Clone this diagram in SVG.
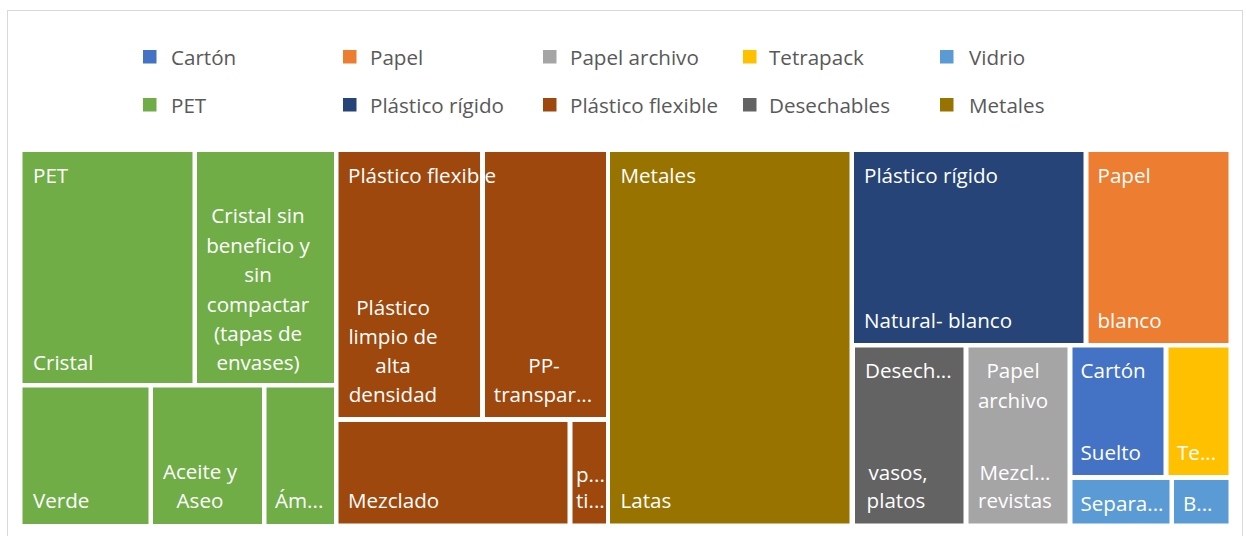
<svg xmlns="http://www.w3.org/2000/svg" width="1246" height="536" viewBox="0 0 1246 536">
<style>
text{font-family:"Open Sans","Noto Sans","Liberation Sans",sans-serif;font-size:20.6px}
.lg{fill:#595959}
.t{fill:#ffffff}
.m{text-anchor:middle}
.pet{fill:#70AD47}.pf{fill:#9E480E}.met{fill:#997300}.pr{fill:#264478}.pap{fill:#ED7D31}
.des{fill:#636363}.pa{fill:#A5A5A5}.car{fill:#4472C4}.tet{fill:#FFC000}.vid{fill:#5B9BD5}
</style>
<rect x="0" y="0" width="1246" height="536" fill="#ffffff"/>
<rect x="7.5" y="10.5" width="1235" height="540" fill="none" stroke="#d9d9d9" stroke-width="1"/>
<g id="legend">
<rect class="car" x="143" y="50" width="13.5" height="13.5"/><text class="lg" x="171" y="65">Cartón</text>
<rect class="pap" x="343" y="50" width="13.5" height="13.5"/><text class="lg" x="370" y="65">Papel</text>
<rect class="pa" x="543" y="50" width="13.5" height="13.5"/><text class="lg" x="570" y="65">Papel archivo</text>
<rect class="tet" x="743" y="50" width="13.5" height="13.5"/><text class="lg" x="769" y="65">Tetrapack</text>
<rect class="vid" x="940" y="50" width="13.5" height="13.5"/><text class="lg" x="969" y="65">Vidrio</text>
<rect class="pet" x="143" y="98" width="13.5" height="13.5"/><text class="lg" x="171" y="113">PET</text>
<rect class="pr" x="343" y="98" width="13.5" height="13.5"/><text class="lg" x="370" y="113">Plástico rígido</text>
<rect class="pf" x="543" y="98" width="13.5" height="13.5"/><text class="lg" x="570" y="113">Plástico flexible</text>
<rect class="des" x="743" y="98" width="13.5" height="13.5"/><text class="lg" x="769" y="113">Desechables</text>
<rect class="met" x="940" y="98" width="13.5" height="13.5"/><text class="lg" x="969" y="113">Metales</text>
</g>
<g id="pet">
<rect class="pet" x="22.5" y="152" width="170" height="231"/>
<rect class="pet" x="197" y="152" width="137" height="231"/>
<rect class="pet" x="22.5" y="387.5" width="126" height="136.5"/>
<rect class="pet" x="153" y="387.5" width="109" height="136.5"/>
<rect class="pet" x="266.5" y="387.5" width="67.5" height="136.5"/>
<text class="t" x="33" y="183">PET</text>
<text class="t" x="33" y="370">Cristal</text>
<text class="t m" x="258" y="223">Cristal sin</text>
<text class="t m" x="258" y="253">beneficio y</text>
<text class="t m" x="258" y="282">sin</text>
<text class="t m" x="258" y="312">compactar</text>
<text class="t m" x="258" y="341">(tapas de</text>
<text class="t m" x="258" y="370">envases)</text>
<text class="t" x="33" y="508">Verde</text>
<text class="t m" x="200" y="479">Aceite y</text>
<text class="t m" x="200" y="508">Aseo</text>
<text class="t" x="275" y="508">Ám...</text>
</g>
<g id="plastico-flexible">
<rect class="pf" x="338.5" y="152" width="141.5" height="265"/>
<rect class="pf" x="485" y="152" width="121" height="265"/>
<rect class="pf" x="338.5" y="422" width="229" height="101.5"/>
<rect class="pf" x="572.5" y="422" width="33.5" height="101.5"/>
<text class="t" x="348" y="183">Plástico flexible</text>
<rect x="480" y="152" width="5" height="265" fill="#ffffff"/>
<text class="t m" x="393" y="315">Plástico</text>
<text class="t m" x="393" y="344">limpio de</text>
<text class="t m" x="393" y="373">alta</text>
<text class="t m" x="393" y="402">densidad</text>
<text class="t m" x="544" y="373">PP-</text>
<text class="t m" x="543" y="402">transpar...</text>
<text class="t" x="348" y="508">Mezclado</text>
<text class="t" x="576" y="482">p...</text>
<text class="t" x="576" y="508">ti...</text>
</g>
<g id="metales">
<rect class="met" x="610" y="152" width="239.5" height="371.5"/>
<text class="t" x="620.5" y="183">Metales</text>
<text class="t" x="620.5" y="508">Latas</text>
</g>
<g id="plastico-rigido">
<rect class="pr" x="854" y="152" width="229.5" height="191"/>
<text class="t" x="864" y="183">Plástico rígido</text>
<text class="t" x="864" y="328">Natural- blanco</text>
</g>
<g id="papel">
<rect class="pap" x="1088.5" y="152" width="140" height="191"/>
<text class="t" x="1097.5" y="183">Papel</text>
<text class="t" x="1097.5" y="328">blanco</text>
</g>
<g id="desechables">
<rect class="des" x="855" y="347.5" width="108.5" height="176"/>
<text class="t" x="865" y="378">Desech...</text>
<text class="t m" x="898" y="480">vasos,</text>
<text class="t m" x="896" y="508">platos</text>
</g>
<g id="papel-archivo">
<rect class="pa" x="968.5" y="347.5" width="99" height="176"/>
<text class="t m" x="1013" y="378">Papel</text>
<text class="t m" x="1013" y="408">archivo</text>
<text class="t m" x="1015" y="480">Mezcl...</text>
<text class="t m" x="1015" y="508">revistas</text>
</g>
<g id="carton">
<rect class="car" x="1072.5" y="347.5" width="91" height="127.5"/>
<text class="t" x="1080.5" y="378">Cartón</text>
<text class="t" x="1080.5" y="460">Suelto</text>
</g>
<g id="tetrapack">
<rect class="tet" x="1168.5" y="347.5" width="60" height="127.5"/>
<text class="t" x="1177" y="460">Te...</text>
</g>
<g id="vidrio">
<rect class="vid" x="1072.5" y="480" width="97" height="43.5"/>
<rect class="vid" x="1174" y="480" width="54.5" height="43.5"/>
<text class="t" x="1080.5" y="511">Separa...</text>
<text class="t" x="1183" y="511">B...</text>
</g>
<g id="connectors"></g>
</svg>
